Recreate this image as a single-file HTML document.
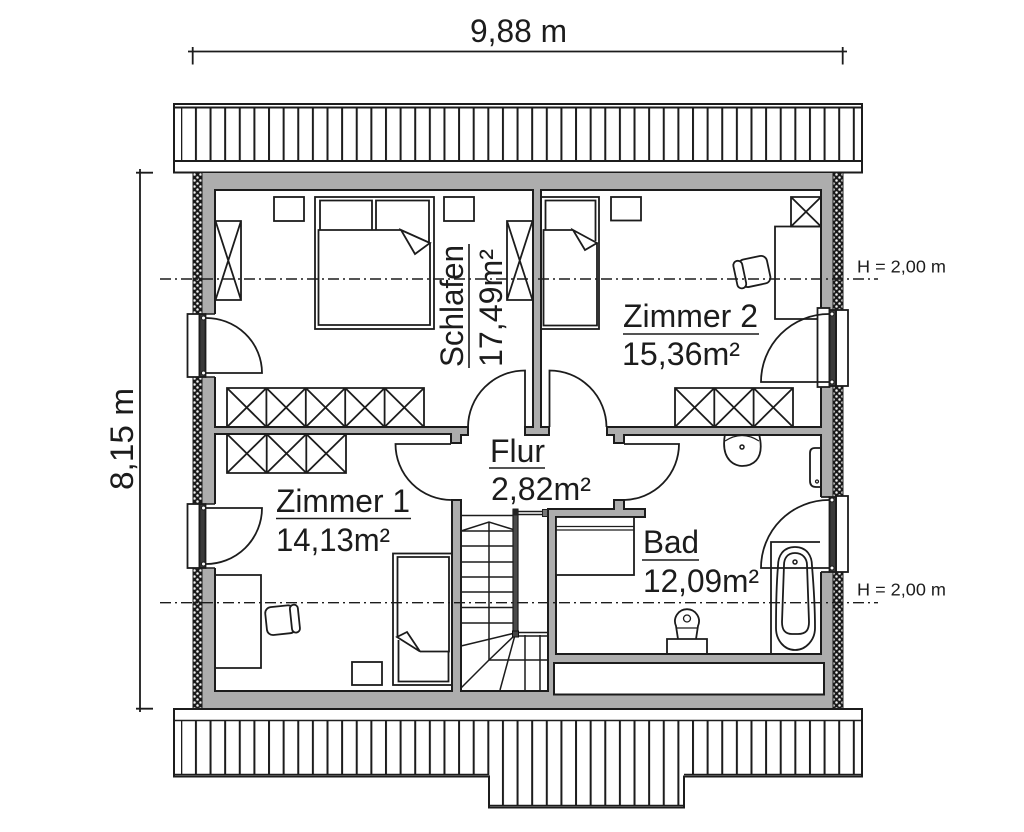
<!DOCTYPE html>
<html lang="de"><head><meta charset="utf-8"><title>Grundriss</title>
<style>html,body{margin:0;padding:0;background:#fff}svg{display:block;filter:blur(.35px)}text{font-family:"Liberation Sans",Arial,sans-serif;fill:#1c1c1c}</style></head>
<body>
<svg width="1024" height="832" viewBox="0 0 1024 832" xmlns="http://www.w3.org/2000/svg">
<defs>
<pattern id="raf" patternUnits="userSpaceOnUse" x="180.3" y="0" width="14.62" height="10"><rect x="0" y="0" width="2" height="10" fill="#1c1c1c"/></pattern>
<pattern id="hat" patternUnits="userSpaceOnUse" x="193" y="173" width="6" height="6"><rect width="6" height="6" fill="#1a1a1a"/><circle cx="1.500" cy="1.500" r="1.250" fill="#f2f2f2"/><circle cx="4.500" cy="4.500" r="1.250" fill="#f2f2f2"/></pattern>
</defs>

<!-- roof top -->
<rect x="174" y="104" width="688" height="68.5" fill="#fff" stroke="#1c1c1c" stroke-width="2"/>
<rect x="181" y="107.5" width="674" height="53.5" fill="url(#raf)"/>
<path d="M174 107.5H862M174 161H862" stroke="#1c1c1c" stroke-width="2" fill="none"/>

<!-- roof bottom -->
<path d="M174 709V776.5H489V807.5H684V776.5H862V709Z" fill="#fff" stroke="#1c1c1c" stroke-width="2"/>
<rect x="181" y="720" width="674" height="54" fill="url(#raf)"/>
<rect x="489" y="774" width="195" height="32" fill="url(#raf)"/>
<path d="M174 720.5H862M174 774.5H489M684 774.5H862M489 805.5H684" stroke="#1c1c1c" stroke-width="1.6" fill="none"/>

<!-- walls -->
<rect x="202" y="173" width="631" height="536" fill="#adadad"/>
<rect x="193" y="173" width="9" height="536" fill="url(#hat)"/>
<rect x="833" y="173" width="10" height="536" fill="url(#hat)"/>
<path d="M193 173V709M202 173V709M833 173V709M843 173V709" stroke="#1c1c1c" stroke-width="1" fill="none"/>
<path d="M193 709H843" stroke="#1c1c1c" stroke-width="2"/>
<path d="M215 190H533V427H525V435H549V427H541V190H821V427H607V435H614V443H624V435H821V654H556V517H645V509H624V500H614V509H548V691H461V500H452V691H215V434H451V443H461V435H468V427H215Z" fill="#fff" stroke="#1c1c1c" stroke-width="2"/>
<rect x="554" y="663" width="270" height="31.5" fill="#fff" stroke="#1c1c1c" stroke-width="2"/>

<g fill="none" stroke="#1c1c1c" stroke-width="1.8">
<!-- furniture Schlafen -->
<rect x="274" y="197" width="30" height="24"/>
<rect x="444" y="197" width="30" height="24"/>
<rect x="315" y="197" width="119" height="132"/>
<path d="M320 230V200.500H372V230"/>
<path d="M376 230V200.500H429V243"/>
<path d="M401 230H318.500V325H430V243"/>
<path d="M401 230L430 243L415 254Z" fill="#fff"/>
<path d="M215.500 221H241V300H215.500M215.500 221L241 300M241 221L215.500 300"/>
<path d="M532.500 221H507V300H532.500M532.500 221L507 300M507 221L532.500 300"/>
<!-- wardrobes -->
<path d="M227 388H424V427H227ZM266.400 388V427M305.800 388V427M345.200 388V427M384.600 388V427M227 388L266.400 427M266.400 388L227 427M266.400 388L305.800 427M305.800 388L266.400 427M305.800 388L345.200 427M345.200 388L305.800 427M345.200 388L384.600 427M384.600 388L345.200 427M384.600 388L424 427M424 388L384.600 427"/>
<path d="M227 434V473H346V434M266.700 434V473M306.300 434V473M227 434L266.700 473M266.700 434L227 473M266.700 434L306.300 473M306.300 434L266.700 473M306.300 434L346 473M346 434L306.300 473"/>
<path d="M675 388H793V427H675ZM714.300 388V427M753.600 388V427M675 388L714.300 427M714.300 388L675 427M714.300 388L753.600 427M753.600 388L714.300 427M753.600 388L793 427M793 388L753.600 427"/>
<!-- Zimmer 2 -->
<rect x="541" y="197" width="58" height="132"/>
<path d="M545.500 230V200.500H595.500V241"/>
<path d="M573 230H543.500V325.500H597V243"/>
<path d="M573 230L597 243L585 250Z" fill="#fff"/>
<rect x="611" y="197" width="30" height="23.500"/>
<path d="M791 197H821V226.500H791ZM791 197L821 226.500M821 197L791 226.500"/>
<path d="M821 226.500H775V319H821"/>
<g transform="rotate(-12 752 272)"><rect x="740" y="258" width="29" height="28" rx="6"/><rect x="735" y="258" width="9" height="28" rx="4.500" fill="#fff"/></g>
<!-- Zimmer 1 -->
<path d="M215 575H261V668H215"/>
<g transform="rotate(-6 282 620)"><rect x="266" y="606" width="29" height="28" rx="6"/><rect x="291" y="606" width="8" height="28" rx="4" fill="#fff"/></g>
<rect x="393" y="553.500" width="59" height="131.500"/>
<path d="M397.500 637V557H449V651.500H420"/>
<path d="M398.500 640V681.500H448.500V651.500"/>
<path d="M397 637L407 632L420 651.500Z" fill="#fff"/>
<rect x="352" y="662" width="30" height="23"/>
<!-- Bad -->
<path d="M725 434C720 462 737 466 742 466C750 466 766 462 759 434"/>
<path d="M725 441Q742 430 759 441" stroke-width="1.2"/>
<path d="M821 448H815Q810 448 810 453V481Q810 487 816 487H821"/>
<path d="M771 654V542H821"/>
<path d="M795 547C783 547 778 556 778 566C776 590 776 612 776 628C776 640 784 650 795 650C806 650 815 640 815 628C815 612 814 590 812 566C812 556 807 547 795 547Z"/>
<path d="M795 553C787 553 784 559 784 565L782 622C782 630 785 634 792 634H798C806 634 809 630 809 622L807 565C807 559 803 553 795 553Z"/>
<path d="M667 654V639H707V654"/>
<path d="M678 639L676 626A12 12 0 1 1 698 626L696 639"/>
<path d="M677 628H697" stroke-width="1.2"/>
<rect x="556" y="517" width="78" height="58" fill="#fff"/>
<path d="M556 526.500H634M556 530H634" stroke-width="1.300"/>
</g>
<circle cx="742" cy="447" r="2" fill="#fff" stroke="#1c1c1c" stroke-width="1.500"/>
<circle cx="795" cy="562" r="2" fill="#fff" stroke="#1c1c1c" stroke-width="1.500"/>
<circle cx="687" cy="618.500" r="3.500" fill="#fff" stroke="#1c1c1c" stroke-width="1.300"/>
<circle cx="817" cy="481.500" r="1.500" fill="#fff" stroke="#1c1c1c" stroke-width="1.200"/>

<!-- stairs -->
<g fill="none" stroke="#1c1c1c" stroke-width="1.500">
<path d="M461 515.500H515M461 531H518M461 546H515M461 562H515M461 577H515M461 592H515M461 607.500H515M461 623H515"/>
<path d="M489 522V660M461 531L489 522L518 531"/>
<path d="M461 646L515 633M461 688L489 660L515 635M500 690L515 635"/>
<path d="M489 660H548M525 635V691M540 635V691"/>
<path d="M515 632.500H548M515 636H548M515 511.500H548M515 514.500H548"/>
</g>
<rect x="513" y="510" width="5" height="124" fill="#4a4a4a" stroke="#1c1c1c" stroke-width="1.200"/>
<rect x="512.500" y="508.500" width="6" height="7" fill="#222"/>
<rect x="512.500" y="631" width="6" height="6" fill="#444" stroke="#111"/>
<rect x="542.500" y="509.500" width="5" height="7" fill="#777" stroke="#222" stroke-width="1"/>

<!-- Flur doors -->
<g fill="none" stroke="#1c1c1c" stroke-width="1.800">
<path d="M525 427V370.500A57 57 0 0 0 468 427"/>
<path d="M549.500 427V370.500A57 57 0 0 1 606.500 427"/>
<path d="M451 444H395.500A56 56 0 0 0 452 500"/>
<path d="M624 444H679A56 56 0 0 1 624 500"/>
</g>

<!-- windows -->
<g stroke="#1c1c1c" stroke-width="1.800">
<rect x="199" y="314" width="18" height="63" fill="#fff" stroke="none"/>
<rect x="199" y="504" width="18" height="64" fill="#fff" stroke="none"/>
<path d="M205 314H215M205 377H215M205 504H215M205 568H215" fill="none" stroke-width="1.500"/>
<rect x="187.500" y="314" width="12" height="63" fill="#fff"/>
<rect x="187.500" y="504" width="12" height="64" fill="#fff"/>
<rect x="199.500" y="314" width="6" height="63" fill="#3a3a3a"/>
<rect x="199.500" y="504" width="6" height="64" fill="#3a3a3a"/>
<path d="M205 373H262A56 55 0 0 0 205 318" fill="none"/>
<path d="M205 508H262A56 56 0 0 1 205 564" fill="none"/>

<rect x="817.500" y="308" width="12" height="79" fill="#fff"/>
<rect x="836" y="310" width="12" height="76" fill="#fff"/>
<rect x="829.500" y="310" width="6.500" height="76" fill="#3a3a3a"/>
<path d="M829 382H761A68 68 0 0 1 829 314" fill="none"/>
<rect x="820" y="497" width="9.500" height="75" fill="#fff" stroke="none"/>
<path d="M821 497H829.500M821 572H829.500" fill="none"/>
<rect x="836" y="496" width="12" height="76" fill="#fff"/>
<rect x="829.500" y="497" width="6.500" height="75" fill="#3a3a3a"/>
<path d="M829 568H761A68 68 0 0 1 829 500" fill="none"/>
</g>
<g fill="#fff" stroke="#1c1c1c" stroke-width="1">
<circle cx="203.500" cy="318" r="2"/><circle cx="203.500" cy="373" r="2"/>
<circle cx="203.500" cy="508" r="2"/><circle cx="203.500" cy="564" r="2"/>
<circle cx="832" cy="314" r="2"/><circle cx="832" cy="382" r="2"/>
<circle cx="832" cy="500" r="2"/><circle cx="832" cy="568" r="2"/>
</g>

<!-- center lines -->
<g fill="none" stroke="#1c1c1c" stroke-width="1.400" stroke-dasharray="11 4 2 4">
<path d="M160 279H878"/>
<path d="M160 602.700H878"/>
</g>

<!-- dimensions -->
<g fill="none" stroke="#1c1c1c" stroke-width="1.800">
<path d="M188 51.500H847M192.700 47V64.500M842.700 47V64.500"/>
<path d="M140 169V712M136 172.700H153M136 708.700H153"/>
</g>

<!-- labels -->
<g font-size="32">
<text x="470" y="42" textLength="97" lengthAdjust="spacingAndGlyphs">9,88 m</text>
<text x="623" y="327" textLength="135" lengthAdjust="spacingAndGlyphs">Zimmer 2</text>
<text x="622" y="365" textLength="118" lengthAdjust="spacingAndGlyphs">15,36m²</text>
<text x="276" y="512" textLength="134" lengthAdjust="spacingAndGlyphs">Zimmer 1</text>
<text x="276" y="551" textLength="114" lengthAdjust="spacingAndGlyphs">14,13m²</text>
<text x="490" y="462" textLength="55" lengthAdjust="spacingAndGlyphs">Flur</text>
<text x="491" y="500" textLength="100" lengthAdjust="spacingAndGlyphs">2,82m²</text>
<text x="643" y="553" textLength="56" lengthAdjust="spacingAndGlyphs">Bad</text>
<text x="643" y="592" textLength="116" lengthAdjust="spacingAndGlyphs">12,09m²</text>
<text transform="translate(463 367) rotate(-90)" textLength="122" lengthAdjust="spacingAndGlyphs">Schlafen</text>
<text transform="translate(502 367) rotate(-90)" textLength="118" lengthAdjust="spacingAndGlyphs">17,49m²</text>
<text transform="translate(133 490) rotate(-90)" textLength="102" lengthAdjust="spacingAndGlyphs">8,15 m</text>
</g>
<g font-size="17.500">
<text x="857" y="272.500" textLength="89" lengthAdjust="spacingAndGlyphs">H = 2,00 m</text>
<text x="857" y="595.500" textLength="89" lengthAdjust="spacingAndGlyphs">H = 2,00 m</text>
</g>
<g fill="none" stroke="#1c1c1c" stroke-width="1.600">
<path d="M623 334H759M276 518.500H411M489 468H545M642 560H699M469 244V368"/>
</g>
</svg>
</body></html>
